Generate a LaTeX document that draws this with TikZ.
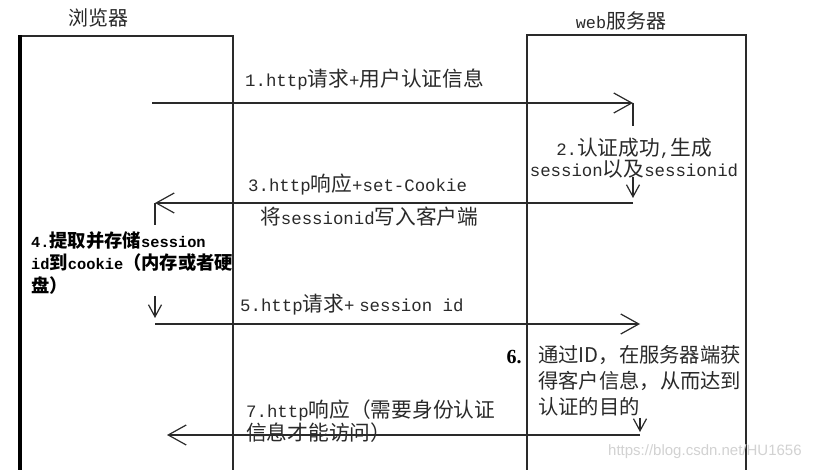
\documentclass[tikz,border=0pt]{standalone}
\usepackage{fontspec}
\setmainfont{Noto Sans CJK SC}
\newfontfamily\mono{Liberation Mono}[Scale=0.84]
\newfontfamily\serifb{Liberation Serif}
\newfontfamily\wmfont{Liberation Sans}
\usetikzlibrary{arrows.meta}
\definecolor{ink}{HTML}{2A2A2A}
\definecolor{wm}{HTML}{D2D2D2}
\tikzset{
  lane/.style={draw=ink, line width=1.5pt},
  thicklane/.style={draw=black, line width=4.2pt},
  msg/.style={draw=ink, line width=1.2pt},
  bigtip/.style={-{Straight Barb[length=18pt,width=20pt,line width=1.2pt]}},
  smalltip/.style={-{Straight Barb[length=12pt,width=13pt,line width=1.2pt]}},
  lbl/.style={inner sep=0pt, text=ink, font=\fontsize{20.7}{25}\selectfont},
  title/.style={inner sep=0pt, text=ink, font=\fontsize{20}{24}\selectfont},
}
\begin{document}
\begin{tikzpicture}[x=1pt,y=-1pt]
\useasboundingbox (0,0) rectangle (823,470);
\fill[white] (0,0) rectangle (823,470);

% lifelines / boxes
\coordinate (bBL) at (20,470);
\coordinate (bTL) at (20,36);
\coordinate (bTR) at (233,36);
\coordinate (bBR) at (233,470);
\coordinate (sBL) at (527,470);
\coordinate (sTL) at (527,35);
\coordinate (sTR) at (746,35);
\coordinate (sBR) at (746,470);
\draw[lane] (bTL) -- (bTR) -- (bBR);
\draw[thicklane] (bBL) -- ([yshift=0.8pt]bTL);
\draw[lane] (sBL) -- (sTL) -- (sTR) -- (sBR);

\node[title] (tb) at (98,18) {浏览器};
\node[title] (ts) at (621,21) {{\mono web}服务器};

% step 1
\coordinate (a1s) at (152,103);
\coordinate (a1e) at (633,103);
\draw[msg,bigtip] (a1s) -- (a1e);
\node[lbl,anchor=west] (t1) at (245,80) {{\mono 1.http}请求{\mono +}用户认证信息};

% step 2
\coordinate (a2a) at (633,126);
\draw[msg] (a1e) -- (a2a);
\node[lbl,align=center] (t2) at (634,158) {{\mono 2.}认证成功{\mono ,}生成\\[-4pt]{\mono session}以及{\mono sessionid}};
\coordinate (a2s) at (633,177);
\coordinate (a2e) at (633,198);
\draw[msg,smalltip] (a2s) -- (a2e);

% step 3
\coordinate (a3s) at (633,203);
\coordinate (a3e) at (155,203);
\draw[msg,bigtip] (a3s) -- (a3e);
\node[lbl,anchor=west] (t3) at (248,185) {{\mono 3.http}响应{\mono +set-Cookie}};
\node[lbl,anchor=west] (t3b) at (260,217) {将{\mono sessionid}写入客户端};
\coordinate (a3d) at (155,225);
\draw[msg] (a3e) -- (a3d);

% step 4
\node[inner sep=0pt,text=black,anchor=west,align=left,
  font=\fontsize{18.3}{22.5}\selectfont\bfseries] (t4) at (31,263)
  {{\mono 4.}提取并存储{\mono session}\\{\mono id}到{\mono cookie}（内存或者硬\\盘）};
\coordinate (a4s) at (155,296);
\coordinate (a4e) at (155,318);
\draw[msg,smalltip] (a4s) -- (a4e);

% step 5
\coordinate (a5s) at (155,324);
\coordinate (a5e) at (640,324);
\draw[msg,bigtip] (a5s) -- (a5e);
\node[lbl,anchor=west] (t5) at (240,305) {{\mono 5.http}请求{\mono +} {\mono session id}};

% step 6
\node[inner sep=0pt,text=black,anchor=center,font=\fontsize{20}{24}\selectfont\serifb\bfseries] (t6n) at (514,357) {6.};
\node[lbl,anchor=west,align=left,font=\fontsize{20.3}{26}\selectfont] (t6) at (538,381)
  {通过ID，在服务器端获\\得客户信息，从而达到\\认证的目的};
\coordinate (a6s) at (640,418);
\coordinate (a6e) at (640,432);
\draw[msg,smalltip] (a6s) -- (a6e);

% step 7
\coordinate (a7s) at (640,435);
\coordinate (a7e) at (167,435);
\draw[msg,bigtip] (a7s) -- (a7e);
\node[lbl,anchor=west,align=left,font=\fontsize{20.7}{23}\selectfont] (t7) at (246,421)
  {{\mono 7.http}响应（需要身份认证\\信息才能访问）};

% watermark
\node[inner sep=0pt,anchor=west,text=wm,font=\fontsize{15}{18}\selectfont\wmfont] (wmk) at (608,452) {https://blog.csdn.net/HU1656};
\end{tikzpicture}
\end{document}
